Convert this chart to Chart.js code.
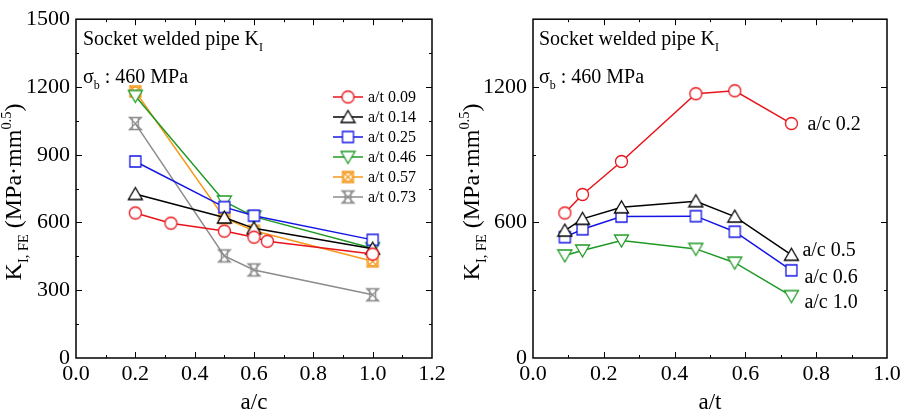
<!DOCTYPE html>
<html>
<head>
<meta charset="utf-8">
<script src="https://cdn.jsdelivr.net/npm/chart.js@4.4.1/dist/chart.umd.min.js"></script>
<style>
  html, body { margin: 0; padding: 0; background: #fff; }
  #wrap { position: relative; width: 908px; height: 414px; overflow: hidden; }
  .panel { position: absolute; top: 0; width: 454px; height: 414px; }
  #fontProbe { position: absolute; left: -999px; top: 0; font-family: "Liberation Serif"; font-size: 20px; }
</style>
</head>
<body>
<div id="fontProbe">Socket welded pipe 0123456789 σ</div>
<div id="wrap">
  <div class="panel" style="left:0"><canvas id="leftChart" width="454" height="414"></canvas></div>
  <div class="panel" style="left:454px"><canvas id="rightChart" width="454" height="414"></canvas></div>
</div>
<script>
/* ================= DATA ================= */
// left panel: K vs a/c, one series per a/t
const leftLabels = ["a/t 0.09", "a/t 0.14", "a/t 0.25", "a/t 0.46", "a/t 0.57", "a/t 0.73"];
const acRed = [0.2, 0.32, 0.5, 0.6, 0.645, 1.0];
const kAt009 = [642, 597, 562, 535, 517, 460];
const acCommon = [0.2, 0.5, 0.6, 1.0];
const kAt014 = [726, 622, 574, 484];
const kAt025 = [870, 668, 630, 523];
const kAt046 = [1160, 693, 626, 486];
const kAt057 = [1180, 620, 563, 428];
const kAt073 = [1038, 452, 390, 280];

// right panel: K vs a/t, one series per a/c
const rightLabels = ["a/c 0.2", "a/c 0.5", "a/c 0.6", "a/c 1.0"];
const atValues = [0.09, 0.14, 0.25, 0.46, 0.57, 0.73];
const kAc02 = [642, 724, 870, 1170, 1183, 1038];
const kAc05 = [564, 616, 667, 694, 626, 457];
const kAc06 = [535, 570, 626, 628, 559, 388];
const kAc10 = [454, 476, 520, 483, 422, 274];

// tick labels
const leftXTicks = [0, 0.2, 0.4, 0.6, 0.8, 1.0, 1.2];
const leftYTicks = [0, 300, 600, 900, 1200, 1500];
const rightXTicks = [0, 0.2, 0.4, 0.6, 0.8, 1.0];
const rightYTicks = [0, 600, 1200];

/* ================= STYLE ================= */
const FONT = '"Liberation Serif", "Times New Roman", serif';
const COLORS = {
  red: "#e8141b",
  black: "#000000",
  blue: "#1414e6",
  green: "#1f9a25",
  orange: "#f59a1c",
  gray: "#8c8c8c",
};

/* ================= MARKERS ================= */
function makeMarker(type, color) {
  const s = 17, c = 8.5;
  const cv = document.createElement("canvas");
  cv.width = s;
  cv.height = s;
  const g = cv.getContext("2d");
  g.strokeStyle = color;
  g.fillStyle = "#fff";
  g.lineWidth = 1.3;
  g.beginPath();
  if (type === "circle") {
    g.arc(c, c, 6, 0, Math.PI * 2);
    g.fill(); g.stroke();
  } else if (type === "triangle") {
    g.moveTo(c, c - 6.5); g.lineTo(c + 7, c + 5.5); g.lineTo(c - 7, c + 5.5); g.closePath();
    g.fill(); g.stroke();
  } else if (type === "triangleDown") {
    g.moveTo(c, c + 6.5); g.lineTo(c + 7, c - 5.5); g.lineTo(c - 7, c - 5.5); g.closePath();
    g.fill(); g.stroke();
  } else if (type === "square") {
    g.rect(c - 5.5, c - 5.5, 11, 11);
    g.fill(); g.stroke();
  } else if (type === "boxCross") {
    g.rect(c - 5.5, c - 5.5, 11, 11);
    g.fill(); g.stroke();
    g.beginPath(); g.arc(c, c, 4.5, 0, Math.PI * 2); g.stroke();
    g.beginPath();
    g.moveTo(c - 5.5, c - 5.5); g.lineTo(c + 5.5, c + 5.5);
    g.moveTo(c + 5.5, c - 5.5); g.lineTo(c - 5.5, c + 5.5);
    g.stroke();
  } else if (type === "hourglass") {
    g.moveTo(c - 6, c - 6); g.lineTo(c + 6, c - 6); g.lineTo(c - 6, c + 6); g.lineTo(c + 6, c + 6); g.closePath();
    g.moveTo(c - 3, c - 6); g.lineTo(c - 3, c + 6);
    g.moveTo(c + 3, c - 6); g.lineTo(c + 3, c + 6);
    g.stroke();
  }
  return cv;
}

function series(label, xs, ys, color, marker) {
  return {
    label,
    data: xs.map((x, i) => ({ x, y: ys[i] })),
    borderColor: color,
    backgroundColor: color,
    borderWidth: 1.5,
    pointStyle: makeMarker(marker, color),
    tension: 0,
    clip: false,
  };
}

/* ================= PLUGINS ================= */
function richWidth(ctx, parts, size) {
  let w = 0;
  parts.forEach((p) => {
    ctx.font = `${p.sub || p.sup ? size * 0.6 : size}px ${FONT}`;
    w += ctx.measureText(p.t).width;
  });
  return w;
}

function drawRich(ctx, parts, x, y, size) {
  let cx = x;
  parts.forEach((p) => {
    const fs = p.sub || p.sup ? size * 0.6 : size;
    const dy = p.sub ? size * 0.28 : p.sup ? -size * 0.42 : 0;
    ctx.font = `${fs}px ${FONT}`;
    ctx.fillText(p.t, cx, y + dy);
    cx += ctx.measureText(p.t).width;
  });
}

const titleParts = [
  { t: "K" }, { t: "I, FE", sub: true }, { t: " (MPa\u00b7mm" }, { t: "0.5", sup: true }, { t: ")" },
];
const headParts = [{ t: "Socket welded pipe K" }, { t: "I", sub: true }];
const sigmaParts = [{ t: "\u03c3" }, { t: "b", sub: true }, { t: " : 460 MPa" }];

// box + inward ticks on all four sides
const framePlugin = {
  id: "frameTicks",
  afterDatasetsDraw(chart, args, opts) {
    const { ctx, chartArea: a, scales } = chart;
    ctx.save();
    ctx.strokeStyle = "#000";
    ctx.lineWidth = 1.5;
    ctx.strokeRect(a.left, a.top, a.right - a.left, a.bottom - a.top);
    ctx.lineWidth = 1;
    ctx.beginPath();
    const xs = scales.x, ys = scales.y;
    const nx = Math.round((xs.max - xs.min) / opts.xMinor);
    const kx = Math.round(opts.xMajor / opts.xMinor);
    for (let i = 1; i < nx; i++) {
      const px = Math.round(xs.getPixelForValue(xs.min + i * opts.xMinor)) + 0.5;
      const len = i % kx === 0 ? 6 : 3;
      ctx.moveTo(px, a.bottom); ctx.lineTo(px, a.bottom - len);
      ctx.moveTo(px, a.top); ctx.lineTo(px, a.top + len);
    }
    const ny = Math.round((ys.max - ys.min) / opts.yMinor);
    const ky = Math.round(opts.yMajor / opts.yMinor);
    for (let i = 1; i < ny; i++) {
      const py = Math.round(ys.getPixelForValue(ys.min + i * opts.yMinor)) + 0.5;
      const len = i % ky === 0 ? 6 : 3;
      ctx.moveTo(a.left, py); ctx.lineTo(a.left + len, py);
      ctx.moveTo(a.right, py); ctx.lineTo(a.right - len, py);
    }
    ctx.stroke();
    ctx.restore();
  },
};

// in-plot captions and rotated y title
const textPlugin = {
  id: "captions",
  afterDraw(chart, args, opts) {
    const { ctx, chartArea: a } = chart;
    ctx.save();
    ctx.fillStyle = "#000";
    ctx.textBaseline = "alphabetic";
    ctx.textAlign = "left";
    drawRich(ctx, headParts, a.left + opts.textDx, 45, 20);
    drawRich(ctx, sigmaParts, a.left + opts.textDx, 83, 20);

    // y-axis title
    const size = 24;
    const w = richWidth(ctx, titleParts, size);
    ctx.translate(opts.titleX, opts.titleY);
    ctx.rotate(-Math.PI / 2);
    drawRich(ctx, titleParts, -w / 2, 0, size);
    ctx.restore();
  },
};

// legend block for left panel (line + marker + label)
const legendPlugin = {
  id: "lineLegend",
  afterDraw(chart, args, opts) {
    if (!opts.show) return;
    const { ctx } = chart;
    ctx.save();
    ctx.font = `16px ${FONT}`;
    ctx.textBaseline = "middle";
    ctx.textAlign = "left";
    chart.data.datasets.forEach((ds, i) => {
      const y = opts.y + i * opts.step;
      ctx.strokeStyle = ds.borderColor;
      ctx.lineWidth = 1.5;
      ctx.beginPath();
      ctx.moveTo(opts.x, y); ctx.lineTo(opts.x + 30, y);
      ctx.stroke();
      const img = ds.pointStyle;
      ctx.drawImage(img, opts.x + 15 - img.width / 2, y - img.height / 2);
      ctx.fillStyle = "#000";
      ctx.fillText(ds.label, opts.x + 35, y + 1);
    });
    ctx.restore();
  },
};

// series labels next to the last point (right panel)
const endLabelPlugin = {
  id: "endLabels",
  afterDraw(chart, args, opts) {
    if (!opts.show) return;
    const { ctx } = chart;
    ctx.save();
    ctx.font = `20px ${FONT}`;
    ctx.textBaseline = "middle";
    ctx.textAlign = "left";
    ctx.fillStyle = "#000";
    chart.data.datasets.forEach((ds, i) => {
      const pts = chart.getDatasetMeta(i).data;
      const last = pts[pts.length - 1];
      const off = opts.offsets[i];
      ctx.fillText(ds.label, last.x + off[0], last.y + off[1]);
    });
    ctx.restore();
  },
};

/* ================= CHART BUILDER ================= */
function buildChart(canvasId, cfg) {
  return new Chart(document.getElementById(canvasId), {
    type: "line",
    data: { datasets: cfg.datasets },
    options: {
      responsive: false,
      animation: false,
      events: [],
      layout: { padding: { top: 18, right: cfg.padRight, left: 0, bottom: 0 } },
      plugins: {
        legend: { display: false },
        tooltip: { enabled: false },
        frameTicks: cfg.frame,
        captions: cfg.captions,
        lineLegend: cfg.legend,
        endLabels: cfg.endLabels,
      },
      scales: {
        x: {
          type: "linear",
          min: cfg.xMin,
          max: cfg.xMax,
          afterFit: (s) => { s.height = 56; },
          afterBuildTicks: (s) => { s.ticks = cfg.xTicks.map((v) => ({ value: v })); },
          grid: { display: false, drawTicks: false },
          border: { display: false },
          ticks: {
            color: "#000",
            font: { family: FONT, size: 22 },
            padding: 3,
            maxRotation: 0,
            autoSkip: false,
            callback: (v) => Number(v).toFixed(1),
          },
          title: {
            display: true,
            text: cfg.xTitle,
            color: "#000",
            font: { family: FONT, size: 23, lineHeight: 1 },
            padding: { top: 0, bottom: 0 },
          },
        },
        y: {
          type: "linear",
          min: 0,
          max: 1500,
          afterFit: (s) => { s.width = cfg.yWidth; },
          afterBuildTicks: (s) => { s.ticks = cfg.yTicks.map((v) => ({ value: v })); },
          grid: { display: false, drawTicks: false },
          border: { display: false },
          ticks: {
            color: "#000",
            font: { family: FONT, size: 22 },
            padding: 6,
            autoSkip: false,
            callback: (v) => String(v),
          },
        },
      },
    },
    plugins: [framePlugin, textPlugin, legendPlugin, endLabelPlugin],
  });
}

/* ================= INIT ================= */
function init() {
  buildChart("leftChart", {
    datasets: [
      series(leftLabels[0], acRed, kAt009, COLORS.red, "circle"),
      series(leftLabels[1], acCommon, kAt014, COLORS.black, "triangle"),
      series(leftLabels[2], acCommon, kAt025, COLORS.blue, "square"),
      series(leftLabels[3], acCommon, kAt046, COLORS.green, "triangleDown"),
      series(leftLabels[4], acCommon, kAt057, COLORS.orange, "boxCross"),
      series(leftLabels[5], acCommon, kAt073, COLORS.gray, "hourglass"),
    ],
    padRight: 22,
    yWidth: 76,
    xMin: 0,
    xMax: 1.2,
    xTicks: leftXTicks,
    yTicks: leftYTicks,
    xTitle: "a/c",
    frame: { xMajor: 0.2, xMinor: 0.1, yMajor: 300, yMinor: 150 },
    captions: { textDx: 7, titleX: 21, titleY: 192 },
    legend: { show: true, x: 333, y: 97, step: 20 },
    endLabels: { show: false },
  });

  buildChart("rightChart", {
    datasets: [
      series(rightLabels[0], atValues, kAc02, COLORS.red, "circle"),
      series(rightLabels[1], atValues, kAc05, COLORS.black, "triangle"),
      series(rightLabels[2], atValues, kAc06, COLORS.blue, "square"),
      series(rightLabels[3], atValues, kAc10, COLORS.green, "triangleDown"),
    ],
    padRight: 21,
    yWidth: 79,
    xMin: 0,
    xMax: 1.0,
    xTicks: rightXTicks,
    yTicks: rightYTicks,
    xTitle: "a/t",
    frame: { xMajor: 0.2, xMinor: 0.1, yMajor: 600, yMinor: 300 },
    captions: { textDx: 6, titleX: 25, titleY: 192 },
    legend: { show: false },
    endLabels: { show: true, offsets: [[16, 1], [11, -4], [13, 7], [13, 7]] },
  });
}

Promise.all([
  document.fonts.load('20px "Liberation Serif"'),
  document.fonts.load('20px "Liberation Serif"', "\u03c3"),
]).catch(() => {}).then(init);
</script>
</body>
</html>
